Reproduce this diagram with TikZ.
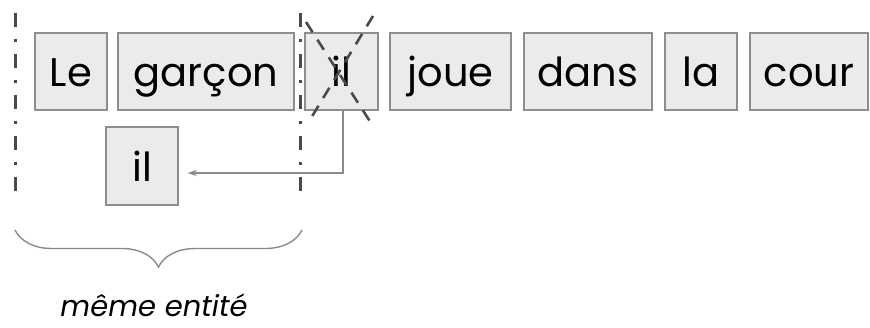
\documentclass[tikz,border=0pt]{standalone}
\usepackage{fontspec}
\setmainfont{Poppins}
\usetikzlibrary{arrows.meta,decorations.pathreplacing}
\definecolor{boxfill}{HTML}{EBEBEB}
\definecolor{boxline}{HTML}{8E8E8E}
\definecolor{guide}{HTML}{4A4A4A}
\definecolor{link}{HTML}{8A8A8A}
\tikzset{
  word/.style={draw=boxline, fill=boxfill, line width=1.4pt, minimum height=77pt,
    inner sep=0pt, text height=30pt, text depth=0pt,
    font=\fontsize{40}{44}\selectfont, text=black},
  divider/.style={draw=guide, line width=3pt, dash pattern=on 14pt off 12pt on 3pt off 12pt},
  strike/.style={draw=guide, line width=2.6pt, dash pattern=on 12pt off 9pt},
  refarrow/.style={draw=link, line width=1.2pt, -{Stealth[length=9pt,width=6pt]}},
  grouping/.style={draw=link, line width=1.4pt,
    decorate, decoration={brace, mirror, amplitude=37pt}}
}
\begin{document}
\begin{tikzpicture}[x=1pt,y=-1pt]
\useasboundingbox (0,0) rectangle (870,327);
% sentence row
\node[word, minimum width=72pt]  (le)     at (71,71.5)    {Le};
\node[word, minimum width=176pt] (garcon) at (206,71.5)   {garçon};
\node[word, minimum width=73pt]  (ilx)    at (341.5,71.5) {il};
\node[word, minimum width=121pt] (joue)   at (450.5,71.5) {joue};
\node[word, minimum width=128pt] (dans)   at (588,71.5)   {dans};
\node[word, minimum width=72pt]  (la)     at (701,71.5)   {la};
\node[word, minimum width=118pt] (cour)   at (809,71.5)   {cour};
% moved pronoun
\node[word, minimum width=72pt, minimum height=78pt] (il) at (142,166) {il};
% strike-out cross over the original pronoun
\coordinate (xa) at (306,22);
\coordinate (xb) at (371,123);
\coordinate (xc) at (373,16);
\coordinate (xd) at (308,123);
\draw[strike] (xa) -- (xb);
\draw[strike] (xc) -- (xd);
% boundaries of the entity group
\coordinate (l1) at (15,13);
\coordinate (l2) at (15,200);
\coordinate (r1) at (300,13);
\coordinate (r2) at (300,200);
\draw[divider] (l1) -- (l2);
\draw[divider] (r1) -- (r2);
% reference link
\draw[refarrow, shorten >=9pt] (ilx.south -| 343,0) |- (il.east |- 0,173);
% brace and caption
\coordinate (b1) at (15,230);
\coordinate (b2) at (302,230);
\draw[grouping] (b1) -- (b2);
\node[font=\fontsize{29}{32}\selectfont\itshape, anchor=base, inner sep=0pt,
      text depth=0pt] (cap) at (154,316) {même entité};
\end{tikzpicture}
\end{document}
